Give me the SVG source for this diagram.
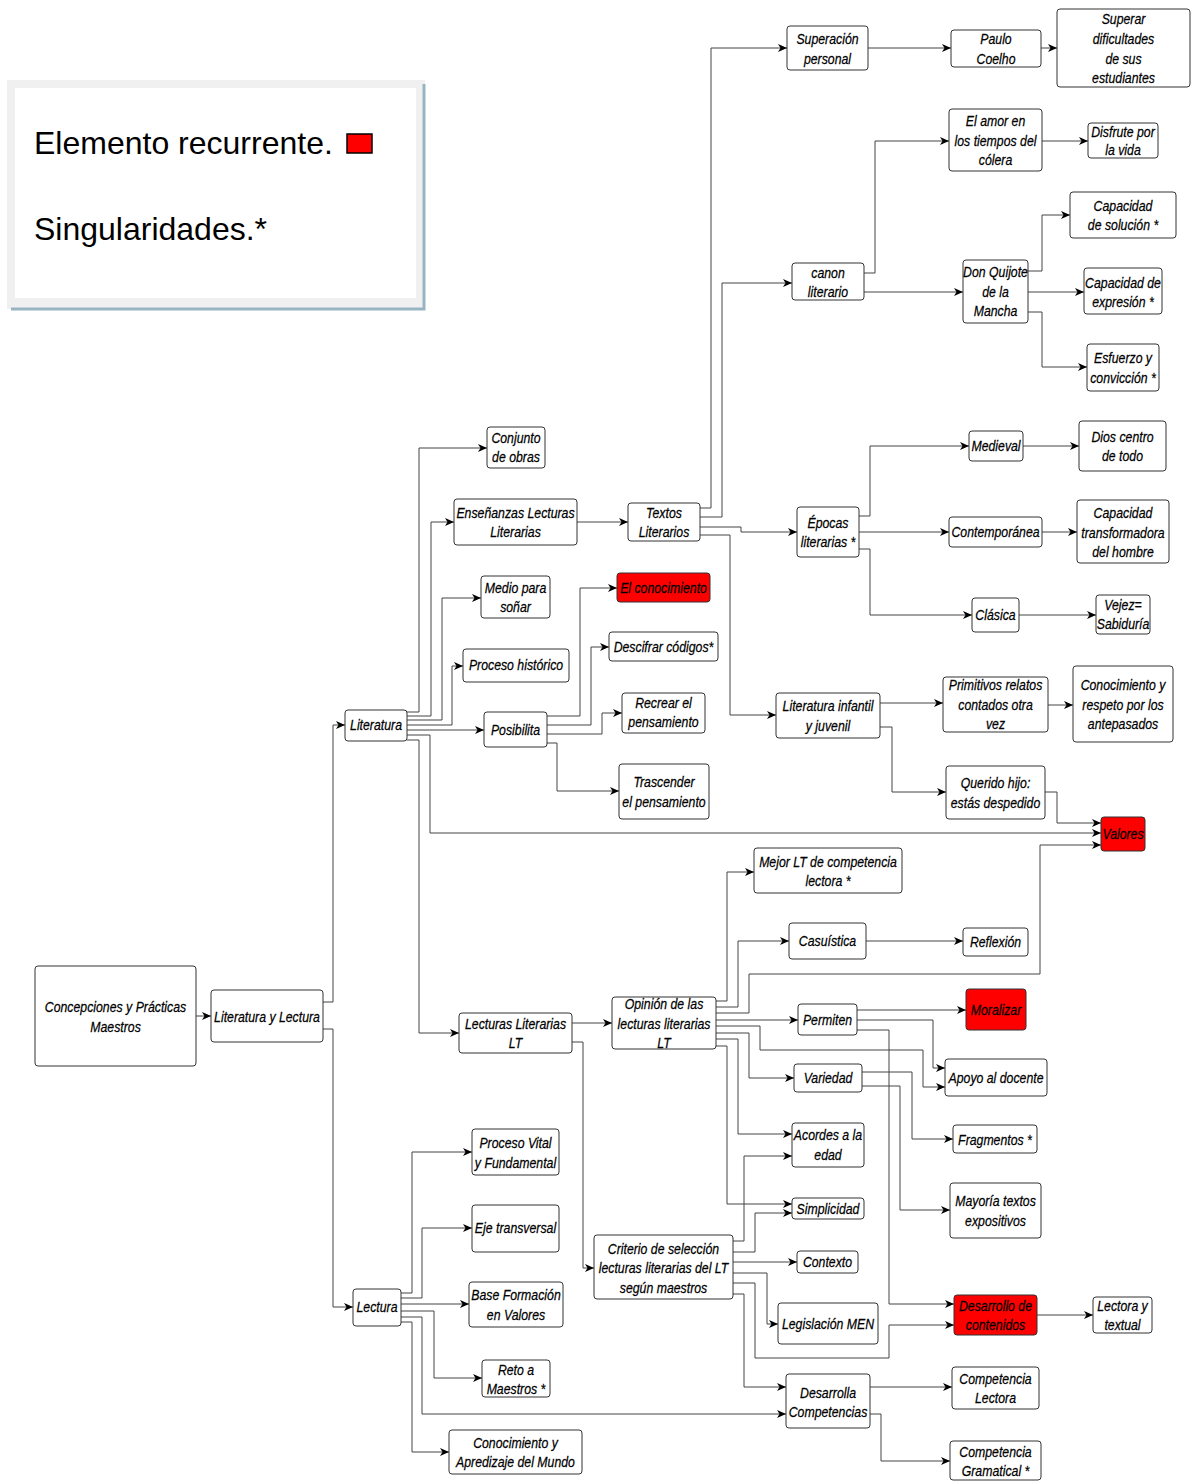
<svg xmlns="http://www.w3.org/2000/svg" width="1193" height="1481" viewBox="0 0 1193 1481">
<style>
.bx{fill:#fff;stroke:#333;stroke-width:1}
.red{fill:#f00;stroke:#333;stroke-width:1}
.t{font-family:'Liberation Sans',Arial,sans-serif;font-size:15px;font-style:italic;text-anchor:middle;fill:#000;stroke:#000;stroke-width:0.25}
.c path{fill:none;stroke:#444;stroke-width:1;marker-end:url(#ah)}
.lg{font-family:'Liberation Sans',Arial,sans-serif;font-size:32px;fill:#000}
</style>
<defs>
<marker id="ah" markerUnits="userSpaceOnUse" markerWidth="10" markerHeight="8" refX="9" refY="4" orient="auto">
<path d="M0,0 L9,4 L0,8 L2.5,4 z" fill="#000"/>
</marker>
</defs>
<rect width="1193" height="1481" fill="#fff"/>
<g id="legend">
<rect x="7" y="80" width="418" height="229" fill="#f0f0f0"/>
<path d="M424,84 V309 H11" fill="none" stroke="#98b3c2" stroke-width="3"/>
<rect x="15" y="88" width="401" height="210" fill="#fff"/>
<text class="lg" x="34" y="154">Elemento recurrente.</text>
<rect x="347" y="134" width="25" height="19" fill="#f00" stroke="#000" stroke-width="1.5"/>
<text class="lg" x="34" y="240">Singularidades.*</text>
</g>
<g class="c" id="connectors">
<path d="M196,1016 H211"/>
<path d="M323,1002 H333 V725 H345"/>
<path d="M323,1029 H333 V1307 H353"/>
<path d="M407,712 H419 V448 H487"/>
<path d="M407,716 H431 V522 H454"/>
<path d="M407,720 H442 V598 H481"/>
<path d="M407,725 H452 V666 H463"/>
<path d="M407,730 H484"/>
<path d="M407,735 H430 V833 H1101"/>
<path d="M407,740 H419 V1033 H459"/>
<path d="M547,716 H580 V588 H617"/>
<path d="M547,725 H591 V647 H609"/>
<path d="M547,734 H602 V713 H622"/>
<path d="M547,743 H557 V791 H619"/>
<path d="M577,522 H628"/>
<path d="M700,508 H711 V48 H787"/>
<path d="M700,517 H722 V283 H792"/>
<path d="M700,527 H741 V532 H797"/>
<path d="M700,535 H730 V715 H776"/>
<path d="M868,48 H951"/>
<path d="M1041,48 H1057"/>
<path d="M864,273 H875 V141 H949"/>
<path d="M864,292 H963"/>
<path d="M1042,141 H1088"/>
<path d="M1028,271 H1042 V215 H1070"/>
<path d="M1028,292 H1084"/>
<path d="M1028,312 H1042 V367 H1087"/>
<path d="M859,516 H870 V446 H969"/>
<path d="M859,532 H949"/>
<path d="M859,549 H870 V615 H972"/>
<path d="M1023,446 H1079"/>
<path d="M1042,532 H1077"/>
<path d="M1019,615 H1096"/>
<path d="M880,703 H943"/>
<path d="M880,727 H892 V792 H946"/>
<path d="M1048,705 H1073"/>
<path d="M1045,792 H1057 V823 H1101"/>
<path d="M572,1023 H612"/>
<path d="M572,1042 H583 V1268 H594"/>
<path d="M716,1001 H727 V872 H754"/>
<path d="M716,1007 H738 V941 H789"/>
<path d="M716,1013 H749 V974 H1040 V845 H1101"/>
<path d="M716,1020 H798"/>
<path d="M716,1026 H760 V1050 H923 V1087 H945"/>
<path d="M716,1033 H749 V1078 H794"/>
<path d="M716,1039 H738 V1134 H792"/>
<path d="M716,1046 H727 V1204 H792"/>
<path d="M866,941 H963"/>
<path d="M857,1010 H966"/>
<path d="M857,1020 H933 V1068 H945"/>
<path d="M857,1030 H889 V1304 H954"/>
<path d="M862,1072 H912 V1139 H953"/>
<path d="M862,1086 H900 V1210 H950"/>
<path d="M733,1241 H744 V1156 H792"/>
<path d="M733,1252 H755 V1213 H792"/>
<path d="M733,1262 H797"/>
<path d="M733,1273 H767 V1324 H778"/>
<path d="M733,1283 H755 V1358 H889 V1325 H954"/>
<path d="M733,1294 H744 V1387 H786"/>
<path d="M1037,1315 H1093"/>
<path d="M870,1387 H952"/>
<path d="M870,1414 H881 V1461 H950"/>
<path d="M401,1293 H412 V1152 H472"/>
<path d="M401,1298 H422 V1228 H472"/>
<path d="M401,1304 H469"/>
<path d="M401,1311 H434 V1378 H482"/>
<path d="M401,1317 H422 V1414 H786"/>
<path d="M401,1322 H412 V1452 H449"/>
</g>
<g id="n-concepciones"><rect class="bx" x="35" y="966" width="161" height="100" rx="3"/><text class="t" transform="translate(115.5,0) scale(0.82,1)"><tspan x="0" y="1012">Concepciones y Prácticas</tspan><tspan x="0" y="1032">Maestros</tspan></text></g>
<g id="n-litlec"><rect class="bx" x="211" y="990" width="112" height="52" rx="3"/><text class="t" transform="translate(267,0) scale(0.82,1)"><tspan x="0" y="1022">Literatura y Lectura</tspan></text></g>
<g id="n-literatura"><rect class="bx" x="345" y="710" width="62" height="31" rx="3"/><text class="t" transform="translate(376,0) scale(0.82,1)"><tspan x="0" y="730">Literatura</tspan></text></g>
<g id="n-lectura"><rect class="bx" x="353" y="1289" width="48" height="37" rx="3"/><text class="t" transform="translate(377,0) scale(0.82,1)"><tspan x="0" y="1312">Lectura</tspan></text></g>
<g id="n-conjunto"><rect class="bx" x="487" y="427" width="58" height="41" rx="3"/><text class="t" transform="translate(516,0) scale(0.82,1)"><tspan x="0" y="443">Conjunto</tspan><tspan x="0" y="462">de obras</tspan></text></g>
<g id="n-ensenanzas"><rect class="bx" x="454" y="499" width="123" height="46" rx="3"/><text class="t" transform="translate(515.5,0) scale(0.82,1)"><tspan x="0" y="518">Enseñanzas Lecturas</tspan><tspan x="0" y="537">Literarias</tspan></text></g>
<g id="n-medio"><rect class="bx" x="481" y="576" width="69" height="42" rx="3"/><text class="t" transform="translate(515.5,0) scale(0.82,1)"><tspan x="0" y="593">Medio para</tspan><tspan x="0" y="612">soñar</tspan></text></g>
<g id="n-procesohist"><rect class="bx" x="463" y="649" width="106" height="33" rx="3"/><text class="t" transform="translate(516,0) scale(0.82,1)"><tspan x="0" y="670">Proceso histórico</tspan></text></g>
<g id="n-posibilita"><rect class="bx" x="484" y="712" width="63" height="35" rx="3"/><text class="t" transform="translate(515.5,0) scale(0.82,1)"><tspan x="0" y="735">Posibilita</tspan></text></g>
<g id="n-textos"><rect class="bx" x="628" y="503" width="72" height="38" rx="3"/><text class="t" transform="translate(664,0) scale(0.82,1)"><tspan x="0" y="518">Textos</tspan><tspan x="0" y="537">Literarios</tspan></text></g>
<g id="n-conocimiento"><rect class="red" x="617" y="573" width="93" height="29" rx="3"/><text class="t" transform="translate(663.5,0) scale(0.82,1)"><tspan x="0" y="593">El conocimiento</tspan></text></g>
<g id="n-descifrar"><rect class="bx" x="609" y="632" width="109" height="29" rx="3"/><text class="t" transform="translate(663.5,0) scale(0.82,1)"><tspan x="0" y="652">Descifrar códigos*</tspan></text></g>
<g id="n-recrear"><rect class="bx" x="622" y="693" width="83" height="40" rx="3"/><text class="t" transform="translate(663.5,0) scale(0.82,1)"><tspan x="0" y="708">Recrear el</tspan><tspan x="0" y="727">pensamiento</tspan></text></g>
<g id="n-trascender"><rect class="bx" x="619" y="764" width="90" height="55" rx="3"/><text class="t" transform="translate(664,0) scale(0.82,1)"><tspan x="0" y="787">Trascender</tspan><tspan x="0" y="807">el pensamiento</tspan></text></g>
<g id="n-superacion"><rect class="bx" x="787" y="26" width="81" height="44" rx="3"/><text class="t" transform="translate(827.5,0) scale(0.82,1)"><tspan x="0" y="44">Superación</tspan><tspan x="0" y="64">personal</tspan></text></g>
<g id="n-paulo"><rect class="bx" x="951" y="30" width="90" height="37" rx="3"/><text class="t" transform="translate(996,0) scale(0.82,1)"><tspan x="0" y="44">Paulo</tspan><tspan x="0" y="64">Coelho</tspan></text></g>
<g id="n-superar"><rect class="bx" x="1057" y="9" width="133" height="78" rx="3"/><text class="t" transform="translate(1123.5,0) scale(0.82,1)"><tspan x="0" y="24">Superar</tspan><tspan x="0" y="44">dificultades</tspan><tspan x="0" y="64">de sus</tspan><tspan x="0" y="83">estudiantes</tspan></text></g>
<g id="n-canon"><rect class="bx" x="792" y="263" width="72" height="37" rx="3"/><text class="t" transform="translate(828,0) scale(0.82,1)"><tspan x="0" y="278">canon</tspan><tspan x="0" y="297">literario</tspan></text></g>
<g id="n-amor"><rect class="bx" x="949" y="109" width="93" height="62" rx="3"/><text class="t" transform="translate(995.5,0) scale(0.82,1)"><tspan x="0" y="126">El amor en</tspan><tspan x="0" y="146">los tiempos del</tspan><tspan x="0" y="165">cólera</tspan></text></g>
<g id="n-disfrute"><rect class="bx" x="1088" y="123" width="70" height="35" rx="3"/><text class="t" transform="translate(1123,0) scale(0.82,1)"><tspan x="0" y="137">Disfrute por</tspan><tspan x="0" y="155">la vida</tspan></text></g>
<g id="n-quijote"><rect class="bx" x="963" y="260" width="65" height="63" rx="3"/><text class="t" transform="translate(995.5,0) scale(0.82,1)"><tspan x="0" y="277">Don Quijote</tspan><tspan x="0" y="297">de la</tspan><tspan x="0" y="316">Mancha</tspan></text></g>
<g id="n-capsol"><rect class="bx" x="1070" y="192" width="106" height="46" rx="3"/><text class="t" transform="translate(1123,0) scale(0.82,1)"><tspan x="0" y="211">Capacidad</tspan><tspan x="0" y="230">de solución *</tspan></text></g>
<g id="n-capexp"><rect class="bx" x="1084" y="268" width="78" height="46" rx="3"/><text class="t" transform="translate(1123,0) scale(0.82,1)"><tspan x="0" y="288">Capacidad de</tspan><tspan x="0" y="307">expresión *</tspan></text></g>
<g id="n-esfuerzo"><rect class="bx" x="1087" y="344" width="72" height="47" rx="3"/><text class="t" transform="translate(1123,0) scale(0.82,1)"><tspan x="0" y="363">Esfuerzo y</tspan><tspan x="0" y="383">convicción *</tspan></text></g>
<g id="n-epocas"><rect class="bx" x="797" y="507" width="62" height="50" rx="3"/><text class="t" transform="translate(828,0) scale(0.82,1)"><tspan x="0" y="528">Épocas</tspan><tspan x="0" y="547">literarias *</tspan></text></g>
<g id="n-medieval"><rect class="bx" x="969" y="431" width="54" height="30" rx="3"/><text class="t" transform="translate(996,0) scale(0.82,1)"><tspan x="0" y="451">Medieval</tspan></text></g>
<g id="n-dios"><rect class="bx" x="1079" y="421" width="87" height="50" rx="3"/><text class="t" transform="translate(1122.5,0) scale(0.82,1)"><tspan x="0" y="442">Dios centro</tspan><tspan x="0" y="461">de todo</tspan></text></g>
<g id="n-contemporanea"><rect class="bx" x="949" y="517" width="93" height="30" rx="3"/><text class="t" transform="translate(995.5,0) scale(0.82,1)"><tspan x="0" y="537">Contemporánea</tspan></text></g>
<g id="n-captransf"><rect class="bx" x="1077" y="500" width="92" height="63" rx="3"/><text class="t" transform="translate(1123,0) scale(0.82,1)"><tspan x="0" y="518">Capacidad</tspan><tspan x="0" y="538">transformadora</tspan><tspan x="0" y="557">del hombre</tspan></text></g>
<g id="n-clasica"><rect class="bx" x="972" y="598" width="47" height="34" rx="3"/><text class="t" transform="translate(995.5,0) scale(0.82,1)"><tspan x="0" y="620">Clásica</tspan></text></g>
<g id="n-vejez"><rect class="bx" x="1096" y="595" width="54" height="39" rx="3"/><text class="t" transform="translate(1123,0) scale(0.82,1)"><tspan x="0" y="610">Vejez=</tspan><tspan x="0" y="629">Sabiduría</tspan></text></g>
<g id="n-litinf"><rect class="bx" x="776" y="693" width="104" height="45" rx="3"/><text class="t" transform="translate(828,0) scale(0.82,1)"><tspan x="0" y="711">Literatura infantil</tspan><tspan x="0" y="731">y juvenil</tspan></text></g>
<g id="n-primitivos"><rect class="bx" x="943" y="677" width="105" height="55" rx="3"/><text class="t" transform="translate(995.5,0) scale(0.82,1)"><tspan x="0" y="690">Primitivos relatos</tspan><tspan x="0" y="710">contados otra</tspan><tspan x="0" y="729">vez</tspan></text></g>
<g id="n-respeto"><rect class="bx" x="1073" y="666" width="100" height="76" rx="3"/><text class="t" transform="translate(1123,0) scale(0.82,1)"><tspan x="0" y="690">Conocimiento y</tspan><tspan x="0" y="710">respeto por los</tspan><tspan x="0" y="729">antepasados</tspan></text></g>
<g id="n-querido"><rect class="bx" x="946" y="766" width="99" height="53" rx="3"/><text class="t" transform="translate(995.5,0) scale(0.82,1)"><tspan x="0" y="788">Querido hijo:</tspan><tspan x="0" y="808">estás despedido</tspan></text></g>
<g id="n-valores"><rect class="red" x="1101" y="817" width="44" height="34" rx="3"/><text class="t" transform="translate(1123,0) scale(0.82,1)"><tspan x="0" y="839">Valores</tspan></text></g>
<g id="n-lectlt"><rect class="bx" x="459" y="1013" width="113" height="40" rx="3"/><text class="t" transform="translate(515.5,0) scale(0.82,1)"><tspan x="0" y="1029">Lecturas Literarias</tspan><tspan x="0" y="1048">LT</tspan></text></g>
<g id="n-opinion"><rect class="bx" x="612" y="997" width="104" height="52" rx="3"/><text class="t" transform="translate(664,0) scale(0.82,1)"><tspan x="0" y="1009">Opinión de las</tspan><tspan x="0" y="1029">lecturas literarias</tspan><tspan x="0" y="1048">LT</tspan></text></g>
<g id="n-mejor"><rect class="bx" x="754" y="848" width="148" height="45" rx="3"/><text class="t" transform="translate(828,0) scale(0.82,1)"><tspan x="0" y="867">Mejor LT de competencia</tspan><tspan x="0" y="886">lectora *</tspan></text></g>
<g id="n-casuistica"><rect class="bx" x="789" y="923" width="77" height="36" rx="3"/><text class="t" transform="translate(827.5,0) scale(0.82,1)"><tspan x="0" y="946">Casuística</tspan></text></g>
<g id="n-reflexion"><rect class="bx" x="963" y="928" width="65" height="28" rx="3"/><text class="t" transform="translate(995.5,0) scale(0.82,1)"><tspan x="0" y="947">Reflexión</tspan></text></g>
<g id="n-permiten"><rect class="bx" x="798" y="1004" width="59" height="31" rx="3"/><text class="t" transform="translate(827.5,0) scale(0.82,1)"><tspan x="0" y="1025">Permiten</tspan></text></g>
<g id="n-moralizar"><rect class="red" x="966" y="989" width="60" height="41" rx="3"/><text class="t" transform="translate(996,0) scale(0.82,1)"><tspan x="0" y="1015">Moralizar</tspan></text></g>
<g id="n-apoyo"><rect class="bx" x="945" y="1059" width="102" height="37" rx="3"/><text class="t" transform="translate(996,0) scale(0.82,1)"><tspan x="0" y="1083">Apoyo al docente</tspan></text></g>
<g id="n-variedad"><rect class="bx" x="794" y="1064" width="68" height="28" rx="3"/><text class="t" transform="translate(828,0) scale(0.82,1)"><tspan x="0" y="1083">Variedad</tspan></text></g>
<g id="n-acordes"><rect class="bx" x="792" y="1123" width="72" height="44" rx="3"/><text class="t" transform="translate(828,0) scale(0.82,1)"><tspan x="0" y="1140">Acordes a la</tspan><tspan x="0" y="1160">edad</tspan></text></g>
<g id="n-simplicidad"><rect class="bx" x="792" y="1198" width="72" height="21" rx="3"/><text class="t" transform="translate(828,0) scale(0.82,1)"><tspan x="0" y="1214">Simplicidad</tspan></text></g>
<g id="n-contexto"><rect class="bx" x="797" y="1251" width="61" height="22" rx="3"/><text class="t" transform="translate(827.5,0) scale(0.82,1)"><tspan x="0" y="1267">Contexto</tspan></text></g>
<g id="n-legislacion"><rect class="bx" x="778" y="1303" width="100" height="41" rx="3"/><text class="t" transform="translate(828,0) scale(0.82,1)"><tspan x="0" y="1329">Legislación MEN</tspan></text></g>
<g id="n-desarrollocont"><rect class="red" x="954" y="1295" width="83" height="40" rx="3"/><text class="t" transform="translate(995.5,0) scale(0.82,1)"><tspan x="0" y="1311">Desarrollo de</tspan><tspan x="0" y="1330">contenidos</tspan></text></g>
<g id="n-lectoratextual"><rect class="bx" x="1093" y="1297" width="59" height="36" rx="3"/><text class="t" transform="translate(1122.5,0) scale(0.82,1)"><tspan x="0" y="1311">Lectora y</tspan><tspan x="0" y="1330">textual</tspan></text></g>
<g id="n-fragmentos"><rect class="bx" x="953" y="1125" width="84" height="28" rx="3"/><text class="t" transform="translate(995,0) scale(0.82,1)"><tspan x="0" y="1145">Fragmentos *</tspan></text></g>
<g id="n-mayoria"><rect class="bx" x="950" y="1183" width="91" height="55" rx="3"/><text class="t" transform="translate(995.5,0) scale(0.82,1)"><tspan x="0" y="1206">Mayoría textos</tspan><tspan x="0" y="1226">expositivos</tspan></text></g>
<g id="n-desarrolla"><rect class="bx" x="786" y="1374" width="84" height="54" rx="3"/><text class="t" transform="translate(828,0) scale(0.82,1)"><tspan x="0" y="1398">Desarrolla</tspan><tspan x="0" y="1417">Competencias</tspan></text></g>
<g id="n-complectora"><rect class="bx" x="952" y="1367" width="87" height="42" rx="3"/><text class="t" transform="translate(995.5,0) scale(0.82,1)"><tspan x="0" y="1384">Competencia</tspan><tspan x="0" y="1403">Lectora</tspan></text></g>
<g id="n-compgram"><rect class="bx" x="950" y="1441" width="91" height="39" rx="3"/><text class="t" transform="translate(995.5,0) scale(0.82,1)"><tspan x="0" y="1457">Competencia</tspan><tspan x="0" y="1476">Gramatical *</tspan></text></g>
<g id="n-criterio"><rect class="bx" x="594" y="1235" width="139" height="64" rx="3"/><text class="t" transform="translate(663.5,0) scale(0.82,1)"><tspan x="0" y="1254">Criterio de selección</tspan><tspan x="0" y="1273">lecturas literarias del LT</tspan><tspan x="0" y="1293">según maestros</tspan></text></g>
<g id="n-procvital"><rect class="bx" x="472" y="1129" width="87" height="46" rx="3"/><text class="t" transform="translate(515.5,0) scale(0.82,1)"><tspan x="0" y="1148">Proceso Vital</tspan><tspan x="0" y="1168">y Fundamental</tspan></text></g>
<g id="n-eje"><rect class="bx" x="472" y="1205" width="87" height="47" rx="3"/><text class="t" transform="translate(515.5,0) scale(0.82,1)"><tspan x="0" y="1233">Eje transversal</tspan></text></g>
<g id="n-base"><rect class="bx" x="469" y="1282" width="94" height="45" rx="3"/><text class="t" transform="translate(516,0) scale(0.82,1)"><tspan x="0" y="1300">Base Formación</tspan><tspan x="0" y="1320">en Valores</tspan></text></g>
<g id="n-reto"><rect class="bx" x="482" y="1360" width="68" height="37" rx="3"/><text class="t" transform="translate(516,0) scale(0.82,1)"><tspan x="0" y="1375">Reto a</tspan><tspan x="0" y="1394">Maestros *</tspan></text></g>
<g id="n-conocapred"><rect class="bx" x="449" y="1430" width="133" height="44" rx="3"/><text class="t" transform="translate(515.5,0) scale(0.82,1)"><tspan x="0" y="1448">Conocimiento y</tspan><tspan x="0" y="1467">Apredizaje del Mundo</tspan></text></g>
</svg>
